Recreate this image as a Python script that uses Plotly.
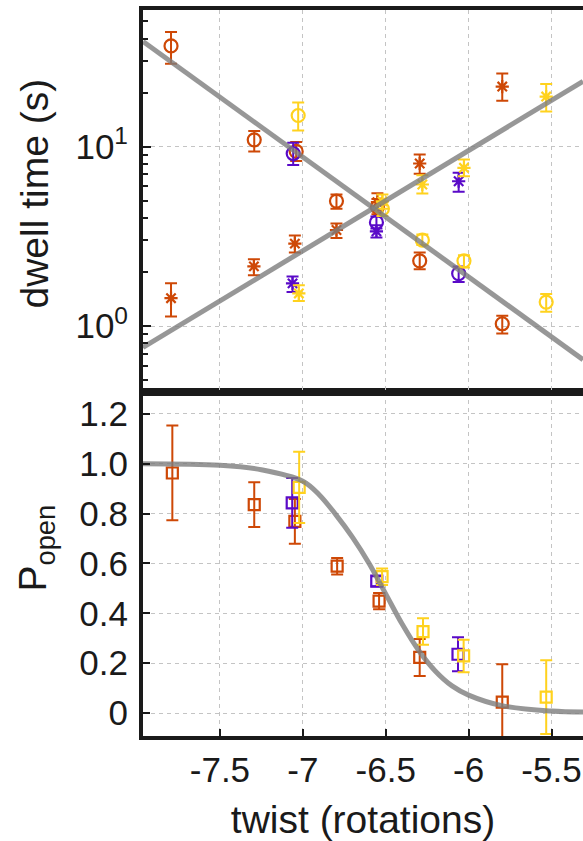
import plotly.graph_objects as go

# ---------------- data ----------------
# top panel: dwell times (s); circles = one state, asterisks = other state
orange_circ_x = [-7.795, -7.293, -7.04, -6.797, -6.55, -6.295, -5.797]
orange_circ_y = [36.4, 10.9, 9.4, 4.97, 4.6, 2.31, 1.03]
orange_circ_hi = [43.5, 12.2, 10.6, 5.4, 5.1, 2.57, 1.14]
orange_circ_lo = [28.9, 9.4, 8.3, 4.5, 4.2, 2.07, 0.91]

orange_ast_x = [-7.795, -7.295, -7.048, -6.797, -6.55, -6.295, -5.797]
orange_ast_y = [1.43, 2.15, 2.88, 3.43, 4.9, 8.05, 21.6]
orange_ast_hi = [1.73, 2.36, 3.2, 3.73, 5.5, 9.03, 25.5]
orange_ast_lo = [1.13, 1.92, 2.57, 3.1, 4.4, 7.05, 18.0]

purple_circ_x = [-7.058, -6.556, -6.06]
purple_circ_y = [9.15, 3.78, 1.96]
purple_circ_hi = [10.5, 4.08, 2.15]
purple_circ_lo = [7.9, 3.5, 1.76]

purple_ast_x = [-7.062, -6.556, -6.06]
purple_ast_y = [1.73, 3.37, 6.41]
purple_ast_hi = [1.89, 3.64, 7.15]
purple_ast_lo = [1.55, 3.12, 5.6]

yellow_circ_x = [-7.028, -6.52, -6.279, -6.028, -5.532]
yellow_circ_y = [14.9, 4.5, 3.01, 2.31, 1.36]
yellow_circ_hi = [17.6, 4.9, 3.24, 2.48, 1.51]
yellow_circ_lo = [12.3, 4.1, 2.83, 2.12, 1.2]

yellow_ast_x = [-7.024, -6.52, -6.279, -6.028, -5.532]
yellow_ast_y = [1.52, 4.95, 6.15, 7.62, 19.0]
yellow_ast_hi = [1.69, 5.4, 6.93, 8.47, 22.3]
yellow_ast_lo = [1.38, 4.5, 5.48, 6.84, 15.7]

# fitted lines (end points)
fit_dec_x = [-7.964, -5.31]
fit_dec_y = [38.5, 0.65]
fit_inc_x = [-7.964, -5.31]
fit_inc_y = [0.76, 23.1]

# bottom panel: P_open
orange_sq_x = [-7.787, -7.293, -7.048, -6.793, -6.54, -6.295, -5.797]
orange_sq_y = [0.963, 0.836, 0.769, 0.589, 0.449, 0.223, 0.044]
orange_sq_err = [0.19, 0.09, 0.09, 0.033, 0.033, 0.074, 0.152]

purple_sq_x = [-7.064, -6.554, -6.064]
purple_sq_y = [0.843, 0.529, 0.236]
purple_sq_err = [0.1, 0.02, 0.068]

yellow_sq_x = [-7.022, -6.522, -6.275, -6.03, -5.532]
yellow_sq_y = [0.905, 0.547, 0.327, 0.229, 0.064]
yellow_sq_err = [0.143, 0.033, 0.053, 0.065, 0.148]

# sigmoid fit curve
sig_x = [-7.964, -7.5, -7.25, -7.0, -6.9, -6.8, -6.7, -6.6, -6.5, -6.4,
         -6.3, -6.2, -6.1, -6.0, -5.8, -5.5, -5.31]
sig_y = [1.0, 0.994, 0.976, 0.93, 0.875, 0.795, 0.705, 0.60, 0.478, 0.356,
         0.25, 0.168, 0.109, 0.072, 0.03, 0.008, 0.004]

x_ticks = [-7.5, -7, -6.5, -6, -5.5]
x_ticktext = ["-7.5", "-7", "-6.5", "-6", "-5.5"]
p_ticks = [0, 0.2, 0.4, 0.6, 0.8, 1.0, 1.2]
p_ticktext = ["0", "0.2", "0.4", "0.6", "0.8", "1.0", "1.2"]

# ---------------- style ----------------
ORANGE = "#CE4806"
PURPLE = "#5A0AC8"
YELLOW = "#FFD21E"
FIT = "rgba(125,125,125,0.8)"
GRID = "#c4c4c4"
INK = "#1a1a1a"
FONT = "Liberation Sans, Arial, sans-serif"

fig = go.Figure()


def top_trace(x, y, hi, lo, color, symbol, size):
    fig.add_trace(go.Scatter(
        x=x, y=y, mode="markers", xaxis="x2", yaxis="y2",
        marker=dict(symbol=symbol, size=size, color=color,
                    line=dict(color=color, width=2.2)),
        error_y=dict(type="data", symmetric=False,
                     array=[h - v for h, v in zip(hi, y)],
                     arrayminus=[v - l for l, v in zip(lo, y)],
                     color=color, thickness=2, width=6),
        showlegend=False))


top_trace(orange_circ_x, orange_circ_y, orange_circ_hi, orange_circ_lo, ORANGE, "circle-open", 13)
top_trace(orange_ast_x, orange_ast_y, orange_ast_hi, orange_ast_lo, ORANGE, "asterisk-open", 11)
top_trace(purple_circ_x, purple_circ_y, purple_circ_hi, purple_circ_lo, PURPLE, "circle-open", 13)
top_trace(purple_ast_x, purple_ast_y, purple_ast_hi, purple_ast_lo, PURPLE, "asterisk-open", 11)
top_trace(yellow_circ_x, yellow_circ_y, yellow_circ_hi, yellow_circ_lo, YELLOW, "circle-open", 13)
top_trace(yellow_ast_x, yellow_ast_y, yellow_ast_hi, yellow_ast_lo, YELLOW, "asterisk-open", 11)

fig.add_trace(go.Scatter(x=fit_dec_x, y=fit_dec_y, mode="lines", xaxis="x2", yaxis="y2",
                         line=dict(color=FIT, width=5), showlegend=False))
fig.add_trace(go.Scatter(x=fit_inc_x, y=fit_inc_y, mode="lines", xaxis="x2", yaxis="y2",
                         line=dict(color=FIT, width=5), showlegend=False))


def bot_trace(x, y, err, color):
    fig.add_trace(go.Scatter(
        x=x, y=y, mode="markers", xaxis="x", yaxis="y",
        marker=dict(symbol="square-open", size=11, color=color,
                    line=dict(color=color, width=2.2)),
        error_y=dict(type="data", array=err, color=color, thickness=2, width=6),
        showlegend=False))


bot_trace(orange_sq_x, orange_sq_y, orange_sq_err, ORANGE)
bot_trace(purple_sq_x, purple_sq_y, purple_sq_err, PURPLE)
bot_trace(yellow_sq_x, yellow_sq_y, yellow_sq_err, YELLOW)

fig.add_trace(go.Scatter(x=sig_x, y=sig_y, mode="lines", line_shape="spline",
                         xaxis="x", yaxis="y",
                         line=dict(color=FIT, width=5), showlegend=False))

split = 345 / 728
xr = [-7.964, -5.31]

axis_common = dict(showline=True, linecolor=INK, linewidth=4,
                   showgrid=True, gridcolor=GRID, griddash="4px,4px", gridwidth=1.2,
                   zeroline=False, tickcolor=INK,
                   tickfont=dict(family=FONT, size=35, color=INK))

fig.update_layout(
    width=583, height=841,
    margin=dict(l=143, r=0, t=10, b=103),
    paper_bgcolor="white", plot_bgcolor="white",
    font=dict(family=FONT, color=INK),
    xaxis=dict(axis_common, domain=[0, 1], range=xr, anchor="y", mirror=True,
               tickvals=x_ticks, ticktext=x_ticktext, ticks="inside", ticklen=7, tickwidth=2,
               title=dict(text="twist (rotations)", font=dict(family=FONT, size=39), standoff=25)),
    yaxis=dict(axis_common, domain=[0, split], range=[-0.092, 1.288], anchor="x",
               tickvals=p_ticks, ticktext=p_ticktext, ticks="inside", ticklen=7, tickwidth=2,
               ticklabelstandoff=4),
    xaxis2=dict(axis_common, domain=[0, 1], range=xr, anchor="y2", mirror=True,
                tickvals=x_ticks, showticklabels=False, ticks=""),
    yaxis2=dict(axis_common, domain=[split, 1], type="log", range=[-0.367, 1.761], anchor="x2",
                tickvals=[1, 10], ticktext=["10<sup>0</sup>", "10<sup>1</sup>"],
                ticks="inside", ticklen=8, tickwidth=2, ticklabelstandoff=4,
                minor=dict(tickvals=[0.5, 0.6, 0.7, 0.8, 0.9, 2, 3, 4, 5, 6, 7, 8, 9,
                                     20, 30, 40, 50],
                           ticks="inside", ticklen=5, tickwidth=2, tickcolor=INK,
                           showgrid=False)),
    annotations=[
        dict(text="dwell time (s)", textangle=-90, xref="paper", yref="paper",
             x=0, y=(738 - 194) / 728, xshift=-109, xanchor="center", yanchor="middle",
             showarrow=False, font=dict(family=FONT, size=39, color=INK)),
        dict(text="P<sub>open</sub>", textangle=-90, xref="paper", yref="paper",
             x=0, y=(738 - 550) / 728, xshift=-107, xanchor="center", yanchor="middle",
             showarrow=False, font=dict(family=FONT, size=39, color=INK)),
    ],
)

# remove the default page margin so the 583x841 figure fills the window exactly
fig.write_html("out.html",
               config={"displayModeBar": False},
               post_script="document.body.style.margin='0';document.body.style.overflow='hidden';")
